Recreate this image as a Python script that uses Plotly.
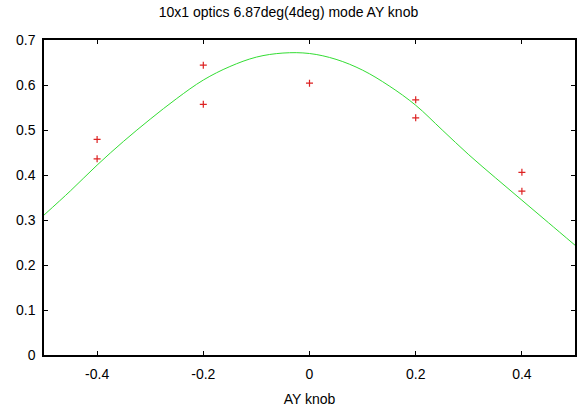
import plotly.graph_objects as go

# measured points
meas_x = [-0.4, -0.4, -0.2, -0.2, 0.0, 0.2, 0.2, 0.4, 0.4]
meas_y = [0.479, 0.436, 0.644, 0.557, 0.604, 0.567, 0.527, 0.406, 0.364]

# fitted curve
fit_x = [-0.5, -0.45, -0.4, -0.35, -0.3, -0.25, -0.2, -0.15, -0.1, -0.05, 0.0,
         0.05, 0.1, 0.15, 0.2, 0.25, 0.3, 0.35, 0.4, 0.45, 0.5]
fit_y = [0.311, 0.365, 0.422, 0.475, 0.524, 0.570, 0.611, 0.641, 0.662, 0.671, 0.670,
         0.657, 0.633, 0.598, 0.555, 0.500, 0.445, 0.394, 0.344, 0.294, 0.244]

x_ticks = [-0.4, -0.2, 0, 0.2, 0.4]
x_labels = ["-0.4", "-0.2", "0", "0.2", "0.4"]
y_ticks = [0, 0.1, 0.2, 0.3, 0.4, 0.5, 0.6, 0.7]
y_labels = ["0", "0.1", "0.2", "0.3", "0.4", "0.5", "0.6", "0.7"]

fig = go.Figure()
fig.add_trace(go.Scatter(x=fit_x, y=fit_y, mode="lines",
                         line=dict(color="#33dd33", width=1), line_shape="spline"))
fig.add_trace(go.Scatter(x=meas_x, y=meas_y, mode="markers",
                         marker=dict(symbol="cross-thin", size=5,
                                     line=dict(color="#dd2222", width=1.2))))

fig.update_layout(
    width=577, height=410,
    margin=dict(l=44, r=0, t=40, b=55),
    paper_bgcolor="white", plot_bgcolor="white",
    showlegend=False,
    font=dict(family="Liberation Sans, Arial, sans-serif", size=14, color="black"),
    title=dict(text="10x1 optics 6.87deg(4deg) mode AY knob", x=0.5, xanchor="center",
               y=0.97, yanchor="middle", font=dict(size=14)),
)
fig.update_xaxes(range=[-0.5, 0.5], tickvals=x_ticks, ticktext=x_labels,
                 showgrid=False, zeroline=False, showline=True, linecolor="black",
                 linewidth=1.5, mirror="ticks", ticks="inside", ticklen=4,
                 tickcolor="black", ticklabelstandoff=5,
                 title=dict(text="AY knob", font=dict(size=14), standoff=14))
fig.update_yaxes(range=[0, 0.7], tickvals=y_ticks, ticktext=y_labels,
                 showgrid=False, zeroline=False, showline=True, linecolor="black",
                 linewidth=1.5, mirror="ticks", ticks="inside", ticklen=4,
                 tickcolor="black", ticklabelstandoff=4)

fig.write_html("out.html")
